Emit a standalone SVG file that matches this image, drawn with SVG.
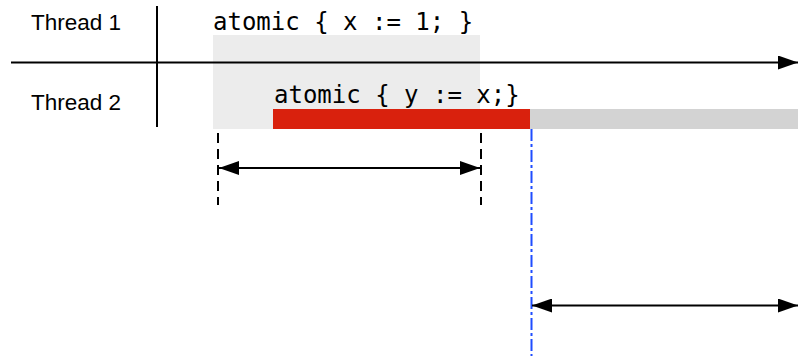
<svg xmlns="http://www.w3.org/2000/svg" width="798" height="356" viewBox="0 0 798 356">
<style>
.label{font-family:"Liberation Sans",Arial,sans-serif;font-size:22.5px;fill:#000}
.code{font-family:"DejaVu Sans Mono","Liberation Mono",monospace;font-size:24px;fill:#000}
.axis{stroke:#000;stroke-width:2;fill:none}
.dash{stroke:#000;stroke-width:2;stroke-dasharray:10,6;fill:none}
.blue{stroke:#1f4dff;stroke-width:2;stroke-dasharray:12,3,3,3;fill:none}
</style>
<defs>
<marker id="ah" viewBox="0 0 20 14" refX="20" refY="7" markerWidth="20" markerHeight="14" markerUnits="userSpaceOnUse" orient="auto-start-reverse">
<path d="M0,0 L20,7 L0,14 Z" fill="#000"/>
</marker>
</defs>
<g id="thread1-block">
<rect x="213" y="35" width="267" height="94" fill="#ececec"/>
<text class="code" x="213" y="30">atomic { x := 1; }</text>
</g>
<g id="thread2-block">
<rect x="273" y="109" width="257" height="20" fill="#d9210d"/>
<rect x="530" y="109" width="268" height="20" fill="#d3d3d3"/>
<text class="code" x="274" y="103">atomic { y := x;}</text>
</g>
<g id="labels">
<text class="label" x="31" y="30">Thread 1</text>
<text class="label" x="31" y="110">Thread 2</text>
</g>
<g id="connectors">
<line class="axis" x1="157" y1="6" x2="157" y2="127"/>
<line class="axis" x1="11" y1="62.5" x2="798" y2="62.5" marker-end="url(#ah)"/>
<line class="dash" x1="218" y1="133" x2="218" y2="205"/>
<line class="dash" x1="481" y1="133" x2="481" y2="205"/>
<line class="axis" x1="219" y1="168" x2="480" y2="168" marker-start="url(#ah)" marker-end="url(#ah)"/>
<line class="blue" x1="531.5" y1="129" x2="531.5" y2="356"/>
<line class="axis" x1="532" y1="305.5" x2="798" y2="305.5" marker-start="url(#ah)" marker-end="url(#ah)"/>
</g>
</svg>
